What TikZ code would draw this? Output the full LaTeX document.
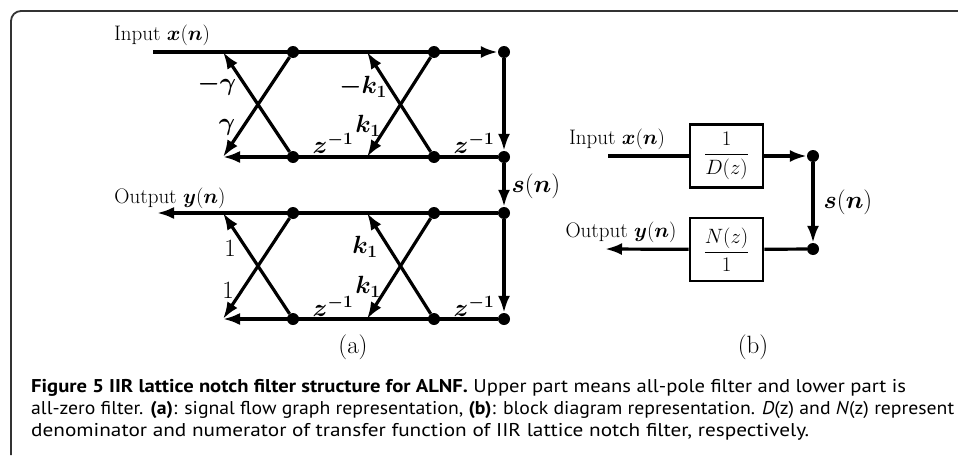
\documentclass[tikz,border=0pt]{standalone}
\usepackage{amsmath}
\usepackage{amssymb}
\usepackage{bm}
\usepackage{fontspec}
\newfontfamily\capfont{PT Sans}
\usetikzlibrary{arrows.meta}

\begin{document}
\begin{tikzpicture}[x=1pt,y=-1pt,
    wire/.style={line width=3.2pt},
    flow/.style={line width=3.2pt,-{Latex[length=17pt,width=12pt]}},
    dot/.style={circle,fill,inner sep=0pt,minimum size=12pt},
    lbl/.style={inner sep=0pt,font=\fontsize{21}{25}\selectfont},
    mlbl/.style={inner sep=0pt,font=\fontsize{23}{27}\selectfont},
    blk/.style={draw,line width=2.8pt,minimum width=73pt,minimum height=63pt,inner sep=0pt,font=\fontsize{21}{25}\selectfont},
    captxt/.style={anchor=west,inner sep=0pt,font=\capfont\fontsize{18.5}{22}\selectfont}]
    \useasboundingbox (0,0) rectangle (958,455);
    \draw[line width=1.8pt,black!80,rounded corners=10pt] (11,455) -- (11,11) -- (958,11);

    % (a) upper part: all-pole
    \coordinate (in) at (153,52);
    \node[dot] (a1) at (293,52) {};
    \node[dot] (a2) at (434,52) {};
    \node[dot] (a3) at (504,52) {};
    \node[dot] (b1) at (293,157) {};
    \node[dot] (b2) at (434,157) {};
    \node[dot] (b3) at (504,157) {};
    \coordinate (d0) at (223,52);
    \coordinate (d1) at (367,52);
    \coordinate (c0) at (223,157);
    \coordinate (c1) at (367,157);

    \draw[flow] (in) -- (a3);
    \draw[flow] (a3) -- (b3);
    \draw[flow] (b3) -- (c0);
    \draw[flow] (b1) -- (d0);
    \draw[flow] (a1) -- (c0);
    \draw[flow] (b2) -- (d1);
    \draw[flow] (a2) -- (c1);

    \node[lbl] (xin) at (162,35) {Input $\bm{x}(\bm{n})$};
    \node[mlbl] (mg) at (217,85) {$\bm{-\gamma}$};
    \node[mlbl] (pg) at (227,127) {$\bm{\gamma}$};
    \node[mlbl] (mk) at (363,87) {$\bm{-k_1}$};
    \node[mlbl] (pk) at (368,126) {$\bm{k_1}$};
    \node[mlbl] (z1) at (333,143) {$\bm{z^{-1}}$};
    \node[mlbl] (z2) at (474,143) {$\bm{z^{-1}}$};

    % (a) lower part: all-zero
    \coordinate (out) at (157,213);
    \node[dot] (e1) at (293,213) {};
    \node[dot] (e2) at (434,213) {};
    \node[dot] (e3) at (504,213) {};
    \node[dot] (f1) at (293,319) {};
    \node[dot] (f2) at (434,319) {};
    \node[dot] (f3) at (504,319) {};
    \coordinate (g0) at (223,213);
    \coordinate (g1) at (367,213);
    \coordinate (h0) at (223,319);
    \coordinate (h1) at (367,319);

    \draw[flow] (b3) -- (e3);
    \node[mlbl] (sa) at (536,186) {$\bm{s}(\bm{n})$};

    \draw[flow] (e3) -- (out);
    \draw[flow] (e3) -- (f3);
    \draw[flow] (f3) -- (h0);
    \draw[flow] (f1) -- (g0);
    \draw[flow] (e1) -- (h0);
    \draw[flow] (f2) -- (g1);
    \draw[flow] (e2) -- (h1);

    \node[lbl] (yout) at (170,198) {Output $\bm{y}(\bm{n})$};
    \node[mlbl] (o1) at (230,248) {$1$};
    \node[mlbl] (o2) at (228,290) {$1$};
    \node[mlbl] (k3) at (365,247) {$\bm{k_1}$};
    \node[mlbl] (k4) at (368,287) {$\bm{k_1}$};
    \node[mlbl] (z3) at (333,306) {$\bm{z^{-1}}$};
    \node[mlbl] (z4) at (474,306) {$\bm{z^{-1}}$};
    \node[lbl,font=\fontsize{25}{29}\selectfont] (ta) at (353,347) {(a)};

    % (b) block diagram
    \node[blk] (den) at (726.5,156) {$\dfrac{1}{D(z)}$};
    \node[blk] (num) at (726.5,249.5) {$\dfrac{N(z)}{1}$};
    \coordinate (inb) at (608,156);
    \coordinate (outb) at (605,249);
    \node[dot] (p) at (813,156) {};
    \node[dot] (q) at (813,249) {};

    \draw[wire] (inb) -- (den);
    \draw[flow] (den) -- (p);
    \draw[flow] (p) -- (q);
    \draw[wire] (q) -- (num);
    \draw[flow] (num) -- (outb);

    \node[lbl] (xb) at (617,139) {Input $\bm{x}(\bm{n})$};
    \node[lbl] (yb) at (621,232) {Output $\bm{y}(\bm{n})$};
    \node[mlbl] (sb) at (848,202) {$\bm{s}(\bm{n})$};
    \node[lbl,font=\fontsize{25}{29}\selectfont] (tb) at (753,347) {(b)};

    % caption
    \node[captxt] (cap1) at (31,388) {\resizebox{875pt}{\height}{\textbf{Figure 5 IIR lattice notch filter structure for ALNF.} Upper part means all-pole filter and lower part is}};
    \node[captxt] (cap2) at (31,410) {\resizebox{923pt}{\height}{all-zero filter. \textbf{(a)}: signal flow graph representation, \textbf{(b)}: block diagram representation. \textit{D}(z) and \textit{N}(z) represent}};
    \node[captxt] (cap3) at (31,432) {\resizebox{778pt}{\height}{denominator and numerator of transfer function of IIR lattice notch filter, respectively.}};
\end{tikzpicture}
\end{document}
